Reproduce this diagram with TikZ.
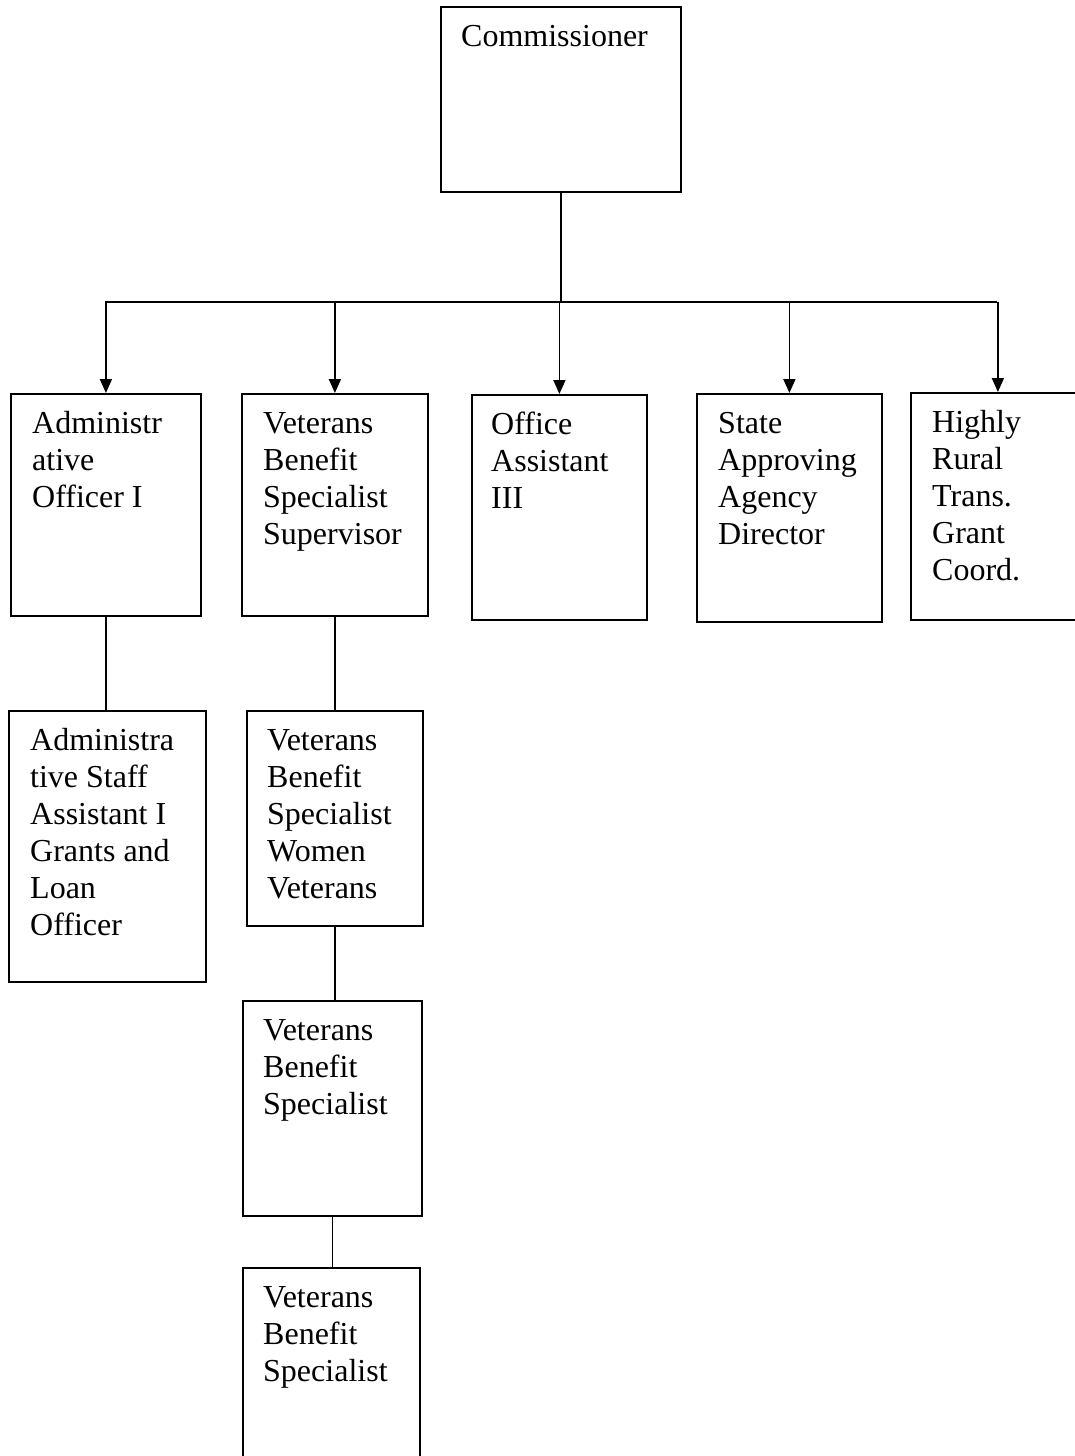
\documentclass[tikz,border=0pt]{standalone}
\usepackage{fontspec}
\setmainfont{Liberation Serif}
\usetikzlibrary{arrows.meta}
\begin{document}
\begin{tikzpicture}[x=1pt,y=-1pt,
  box/.style={draw, line width=1.8pt, rectangle, inner sep=0, anchor=north west},
  txt/.style={anchor=north west, inner sep=0, align=left, font=\fontsize{32}{37}\selectfont},
  conn/.style={line width=1.8pt},
  arr/.style={line width=1.8pt, -{Triangle[length=14pt,width=12pt]}}]
\useasboundingbox (0,0) rectangle (1075,1456);
\fill[white] (0,0) rectangle (1075,1456);
% boxes
\node[box, minimum width=240pt, minimum height=185pt] (comm) at (440,6) {};
\node[box, minimum width=190pt, minimum height=222pt] (b1) at (10,393) {};
\node[box, minimum width=186pt, minimum height=222pt] (b2) at (241,393) {};
\node[box, minimum width=175pt, minimum height=225pt] (b3) at (471,394) {};
\node[box, minimum width=185pt, minimum height=228pt] (b4) at (696,393) {};
\node[box, minimum width=174pt, minimum height=227pt] (b5) at (910,392) {};
\node[box, minimum width=197pt, minimum height=271pt] (b6) at (8,710) {};
\node[box, minimum width=176pt, minimum height=215pt] (b7) at (246,710) {};
\node[box, minimum width=179pt, minimum height=215pt] (b8) at (242,1000) {};
\node[box, minimum width=177pt, minimum height=200pt] (b9) at (242,1267) {};
% texts
\node[txt] (tcomm) at ([shift={(21,14)}]comm.north west) {\strut Commissioner};
\node[txt] (t1) at ([shift={(22,14)}]b1.north west) {\strut Administr\\ative\\Officer I};
\node[txt] (t2) at ([shift={(22,14)}]b2.north west) {\strut Veterans\\Benefit\\Specialist\\Supervisor};
\node[txt] (t3) at ([shift={(20,14)}]b3.north west) {\strut Office\\Assistant\\III};
\node[txt] (t4) at ([shift={(22,14)}]b4.north west) {\strut State\\Approving\\Agency\\Director};
\node[txt] (t5) at ([shift={(22,14)}]b5.north west) {\strut Highly\\Rural\\Trans.\\Grant\\Coord.};
\node[txt] (t6) at ([shift={(22,14)}]b6.north west) {\strut Administra\\tive Staff\\Assistant I\\Grants and\\Loan\\Officer};
\node[txt] (t7) at ([shift={(21,14)}]b7.north west) {\strut Veterans\\Benefit\\Specialist\\Women\\Veterans};
\node[txt] (t8) at ([shift={(21,14)}]b8.north west) {\strut Veterans\\Benefit\\Specialist};
\node[txt] (t9) at ([shift={(21,14)}]b9.north west) {\strut Veterans\\Benefit\\Specialist};
% bus
\coordinate (busL) at (105,302);
\coordinate (busR) at (997,302);
\draw[conn] (comm.south) -- (comm.south |- busL);
\draw[conn] (busL) -- (busR);
\draw[arr] (b1.north |- busL) -- (b1.north);
\draw[arr] (b2.north |- busL) -- (b2.north);
\draw[arr] (b3.north |- busL) -- (b3.north);
\draw[arr] (b4.north |- busL) -- (b4.north);
\draw[arr] (b5.north |- busL) -- (b5.north);
% lower connectors
\draw[conn] (b1.south) -- (b1.south |- b6.north);
\draw[conn] (b2.south) -- (b2.south |- b7.north);
\draw[conn] (b7.south) -- (b7.south |- b8.north);
\draw[conn] (b8.south) -- (b8.south |- b9.north);
\end{tikzpicture}
\end{document}
